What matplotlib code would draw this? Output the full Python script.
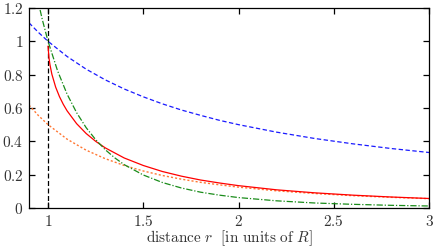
import matplotlib
matplotlib.use("Agg")
import matplotlib.pyplot as plt

plt.rcParams['mathtext.fontset'] = 'cm'
plt.rcParams['font.family'] = ['DejaVu Serif']

# values
r_full = [0.9, 0.95, 1.0, 1.1, 1.2, 1.3, 1.4, 1.5, 1.6, 1.7, 1.8, 1.9, 2.0,
          2.2, 2.4, 2.6, 2.8, 3.0]
blue_vals = [1.111, 1.053, 1.0, 0.909, 0.833, 0.769, 0.714, 0.667, 0.625, 0.588,
             0.556, 0.526, 0.5, 0.455, 0.417, 0.385, 0.357, 0.333]
orange_vals = [0.617, 0.554, 0.5, 0.413, 0.347, 0.296, 0.255, 0.222, 0.195, 0.173,
               0.154, 0.139, 0.125, 0.103, 0.087, 0.074, 0.064, 0.056]

r_red = [1.0, 1.005, 1.01, 1.02, 1.04, 1.06, 1.08, 1.1, 1.15, 1.2, 1.25, 1.3,
         1.4, 1.5, 1.6, 1.7, 1.8, 1.9, 2.0, 2.2, 2.4, 2.6, 2.8, 3.0]
red_vals = [0.97, 0.90, 0.86, 0.803, 0.725, 0.668, 0.622, 0.583, 0.506, 0.447,
            0.40, 0.361, 0.300, 0.255, 0.219, 0.191, 0.168, 0.150, 0.134, 0.109,
            0.091, 0.077, 0.066, 0.057]

r_green = [0.94, 0.97, 1.0, 1.05, 1.1, 1.15, 1.2, 1.25, 1.3, 1.35, 1.4, 1.5, 1.6,
           1.7, 1.8, 1.9, 2.0, 2.2, 2.4, 2.6, 2.8, 3.0]
green_vals = [1.28, 1.13, 1.0, 0.823, 0.683, 0.572, 0.482, 0.410, 0.350, 0.301,
              0.260, 0.198, 0.153, 0.120, 0.095, 0.077, 0.0625, 0.043, 0.030,
              0.022, 0.016, 0.012]

x_ticks = [1, 1.5, 2, 2.5, 3]
x_ticklabels = ['1', '1.5', '2', '2.5', '3']
y_ticks = [0, 0.2, 0.4, 0.6, 0.8, 1.0, 1.2]
y_ticklabels = ['0', '0.2', '0.4', '0.6', '0.8', '1', '1.2']

fig = plt.figure(figsize=(4.36, 2.49), dpi=100)
ax = fig.add_axes([0.0665, 0.1647, 0.9175, 0.8032])

ax.axvline(1.0, color='black', lw=0.9, linestyle=(0, (4, 2)))
ax.plot(r_full, blue_vals, color='#1a1aff', lw=0.9, linestyle=(0, (3.5, 2)))
ax.plot(r_full, orange_vals, color='#ff7733', lw=1.0, linestyle=(0, (1.5, 1.5)))
ax.plot(r_red, red_vals, color='#ff0000', lw=0.9, linestyle='-')
ax.plot(r_green, green_vals, color='#1a8c1a', lw=0.9,
        linestyle=(0, (5, 1.5, 1, 1.5)))

ax.set_xlim(0.9, 3.0)
ax.set_ylim(0, 1.2)
ax.set_xticks(x_ticks)
ax.set_xticklabels(['$' + t + '$' for t in x_ticklabels])
ax.set_yticks(y_ticks)
ax.set_yticklabels(['$' + t + '$' for t in y_ticklabels])
ax.tick_params(direction='in', length=4.3, width=0.9, top=True, right=True,
               labelsize=11, pad=4, colors='black', labelcolor='#333333')
for s in ax.spines.values():
    s.set_linewidth(0.9)

ax.set_xlabel(r'$\mathrm{distance}\ r\ \ \mathrm{[in\ units\ of}\ R\mathrm{]}$',
              fontsize=11, color='#333333', labelpad=0)

fig.savefig('out.png', dpi=100)
